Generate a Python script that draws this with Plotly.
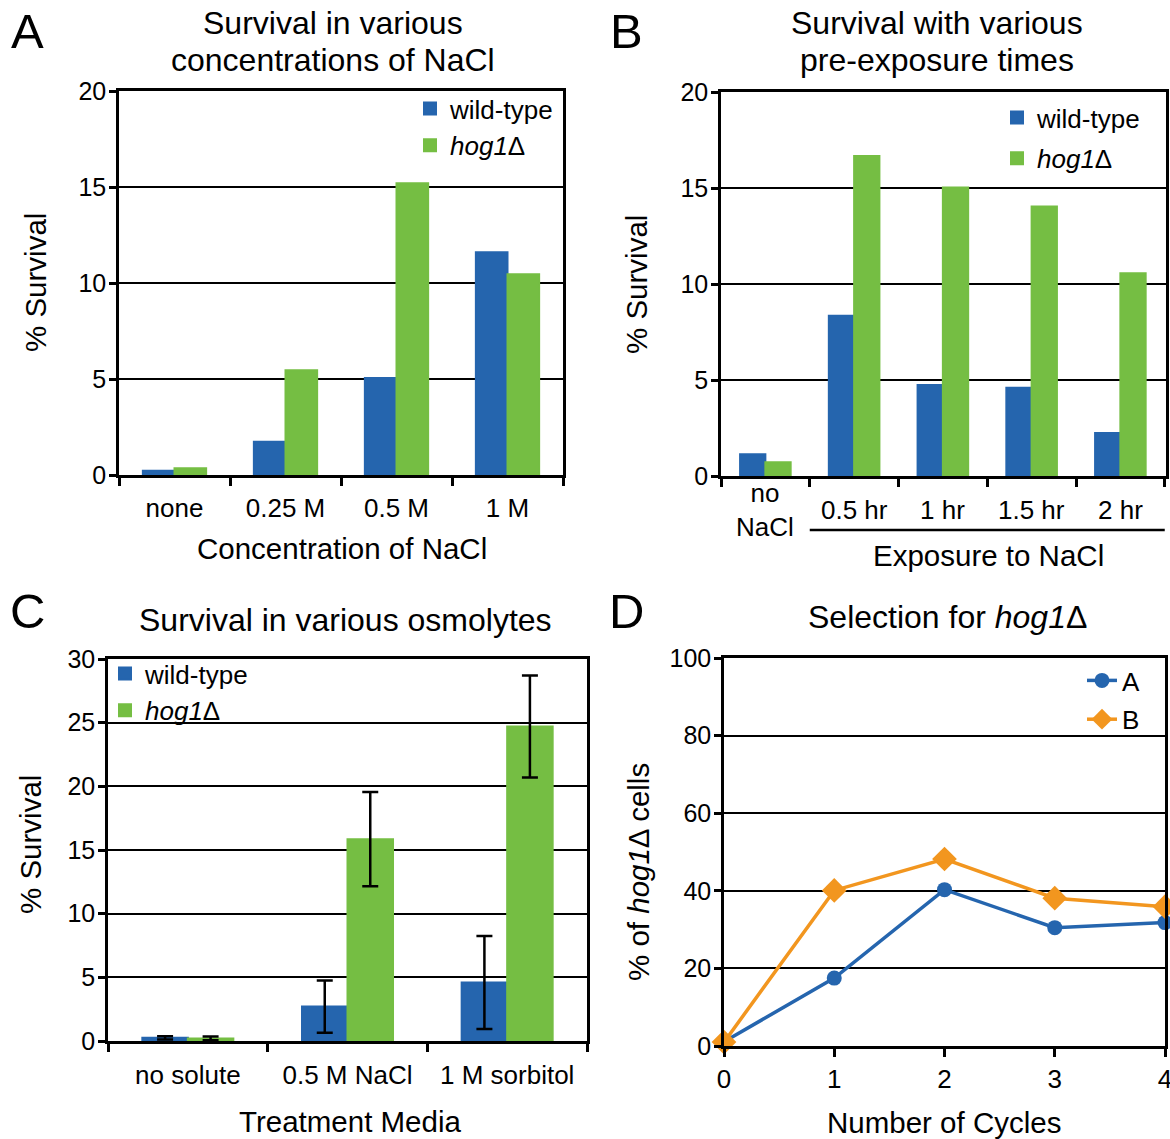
import plotly.graph_objects as go

# ---------------- data ----------------
A_categories = ["none", "0.25 M", "0.5 M", "1 M"]
A_wt = [0.22, 1.73, 5.05, 11.6]
A_hog = [0.35, 5.45, 15.2, 10.45]

B_categories = ["no NaCl", "0.5 hr", "1 hr", "1.5 hr", "2 hr"]
B_labels = ["no<br>NaCl", "0.5 hr", "1 hr", "1.5 hr", "2 hr"]
B_wt = [1.13, 8.35, 4.74, 4.6, 2.24]
B_hog = [0.71, 16.67, 15.02, 14.03, 10.56]

C_categories = ["no solute", "0.5 M NaCl", "1 M sorbitol"]
C_wt = [0.25, 2.7, 4.6]
C_wt_err = [0.13, 2.05, 3.65]
C_hog = [0.2, 15.85, 24.7]
C_hog_err = [0.15, 3.7, 4.0]

D_cycles = [0, 1, 2, 3, 4]
D_A = [1.1, 17.5, 40.3, 30.5, 31.8]
D_B = [1.0, 40.1, 48.2, 38.1, 35.9]

# ---------------- style ----------------
W, H = 1170, 1139
FONT = "Liberation Sans, Arial, Helvetica, sans-serif"
BLUE = "#2565AE"
GREEN = "#75BE43"
ORANGE = "#F2961F"

def px(x):
    return x / W

def py(y):
    return 1 - y / H

fig = go.Figure()

def bar(x, y, name, color, xa, ya, leg, group, err=None):
    kw = {}
    if err is not None:
        kw["error_y"] = dict(type="data", array=err, color="black", thickness=2.5, width=8, visible=True)
    return go.Bar(x=x, y=y, name=name, marker=dict(color=color, line=dict(color=color, width=2)),
                  xaxis=xa, yaxis=ya, legend=leg, legendgroup=group, **kw)

# Panel A
fig.add_trace(bar(A_categories, A_wt, "wild-type", BLUE, "x", "y", "legend", "a1"))
fig.add_trace(bar(A_categories, A_hog, "<i>hog1</i>Δ", GREEN, "x", "y", "legend", "a2"))
# Panel B
fig.add_trace(bar(B_categories, B_wt, "wild-type", BLUE, "x2", "y2", "legend2", "b1"))
fig.add_trace(bar(B_categories, B_hog, "<i>hog1</i>Δ", GREEN, "x2", "y2", "legend2", "b2"))
# Panel C
fig.add_trace(bar(C_categories, C_wt, "wild-type", BLUE, "x3", "y3", "legend3", "c1", C_wt_err))
fig.add_trace(bar(C_categories, C_hog, "<i>hog1</i>Δ", GREEN, "x3", "y3", "legend3", "c2", C_hog_err))
# Panel D
fig.add_trace(go.Scatter(x=D_cycles, y=D_A, name="A", mode="lines+markers",
                         line=dict(color=BLUE, width=3.5),
                         marker=dict(symbol="circle", size=15, color=BLUE),
                         cliponaxis=False, xaxis="x4", yaxis="y4", legend="legend4", legendgroup="d1"))
fig.add_trace(go.Scatter(x=D_cycles, y=D_B, name="B", mode="lines+markers",
                         line=dict(color=ORANGE, width=3.5),
                         marker=dict(symbol="diamond", size=19, color=ORANGE),
                         cliponaxis=False, xaxis="x4", yaxis="y4", legend="legend4", legendgroup="d2"))

def xax(dom, anchor, **kw):
    d = dict(domain=[px(dom[0]), px(dom[1])], anchor=anchor, automargin=False,
             showline=True, linecolor="black", linewidth=2.5, mirror=True,
             ticks="outside", ticklen=8, tickwidth=2.5, tickcolor="black",
             showgrid=False, zeroline=False, fixedrange=True,
             tickfont=dict(family=FONT, size=26, color="black"))
    d.update(kw)
    return d

def yax(dom, anchor, rng, dtick, **kw):
    d = dict(domain=[py(dom[1]), py(dom[0])], anchor=anchor, range=rng, dtick=dtick, automargin=False,
             showline=True, linecolor="black", linewidth=2.5, mirror=True,
             ticks="outside", ticklen=7, tickwidth=2.5, tickcolor="black",
             showgrid=True, gridcolor="black", gridwidth=2.2, zeroline=False, fixedrange=True,
             tickfont=dict(family=FONT, size=25, color="black"), ticklabelstandoff=-2)
    d.update(kw)
    return d

def legend(x, y, gap):
    return dict(x=px(x), y=py(y), font=dict(family=FONT, size=26, color="black"),
                bgcolor="rgba(0,0,0,0)", xanchor="left", yanchor="top", itemwidth=30,
                tracegroupgap=gap, itemclick=False, itemdoubleclick=False)

fig.update_layout(
    template="none",
    width=W, height=H, autosize=False,
    margin=dict(l=0, r=0, t=0, b=0, pad=0, autoexpand=False),
    paper_bgcolor="white", plot_bgcolor="white",
    barmode="group", bargap=0.43, bargroupgap=0,
    font=dict(family=FONT, color="black"),
    xaxis=xax((119, 563), "y", tickson="boundaries", ticklabelstandoff=8),
    yaxis=yax((91, 475), "x", [0, 20], 5),
    xaxis2=xax((721, 1166), "y2", tickson="boundaries", showticklabels=False),
    yaxis2=yax((92, 476), "x2", [0, 20], 5),
    xaxis3=xax((108, 587), "y3", tickson="boundaries", ticklabelstandoff=9),
    yaxis3=yax((659, 1041), "x3", [0, 30], 5),
    xaxis4=xax((724, 1165), "y4", range=[0, 4], dtick=1, ticklabelstandoff=0,
               ticklabeloverflow="allow"),
    yaxis4=yax((658, 1046), "x4", [0, 100], 20),
    legend=legend(410, 85, 0),
    legend2=legend(997, 94, 4),
    legend3=legend(105, 650, 0),
    legend4=legend(1082, 657, 2),
    showlegend=True,
)

ann = []
def text(x, y, s, size, angle=0, xanchor="center", yanchor="middle"):
    ann.append(dict(x=px(x), y=py(y), xref="paper", yref="paper", text=s, showarrow=False,
                    font=dict(family=FONT, size=size, color="black"), textangle=angle,
                    xanchor=xanchor, yanchor=yanchor))

# panel letters
text(27, 31, "A", 49)
text(626, 31, "B", 49)
text(27, 611, "C", 49)
text(626, 611, "D", 49)
# titles
text(333, 23, "Survival in various", 32)
text(333, 60, "concentrations of NaCl", 32)
text(937, 23, "Survival with various", 32)
text(937, 60, "pre-exposure times", 32)
text(345, 620, "Survival in various osmolytes", 32)
text(947, 617, "Selection for <i>hog1</i>Δ", 32)
# axis titles
text(342, 548, "Concentration of NaCl", 29.5)
text(988, 555, "Exposure to NaCl", 29.5)
text(350, 1121, "Treatment Media", 29.5)
text(944, 1122, "Number of Cycles", 29.5)
text(35, 283, "% Survival", 29.5, angle=-90)
text(636, 285, "% Survival", 29.5, angle=-90)
text(30, 845, "% Survival", 29.5, angle=-90)
text(638, 872, "% of <i>hog1</i>Δ cells", 29.5, angle=-90)

# panel B tick labels as annotations in category coordinates
for cat, lab in zip(B_categories, B_labels):
    ann.append(dict(x=cat, y=py(510), xref="x2", yref="paper", text=lab, showarrow=False,
                    font=dict(family=FONT, size=26, color="black"), xanchor="center", yanchor="middle"))

fig.update_layout(annotations=ann)

# underline for the exposure categories in panel B
fig.add_shape(type="line", xref="x2", yref="paper", x0=0.5, x1=len(B_categories) - 0.5,
              y0=py(530), y1=py(530), line=dict(color="black", width=2.5))

fig.write_html("out.html", config={"displayModeBar": False},
               post_script="document.body.style.margin='0';document.body.style.overflow='hidden';")
